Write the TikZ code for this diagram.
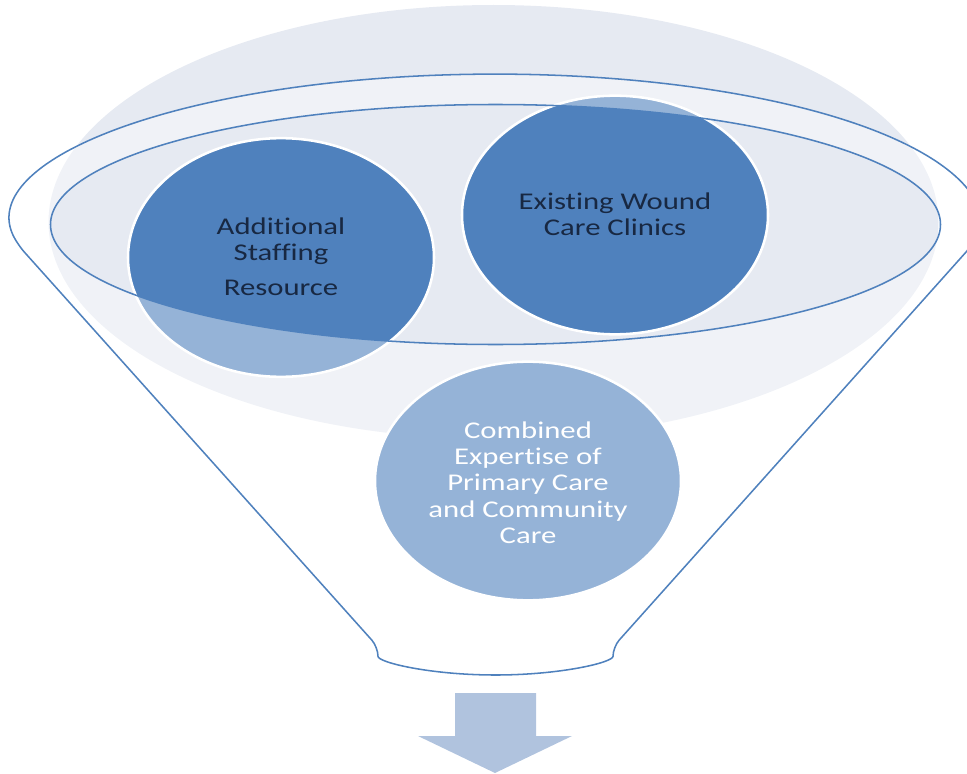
\documentclass[tikz,border=0pt]{standalone}
\usepackage{fontspec}
\setmainfont[Ligatures=NoCommon]{Carlito}
\usetikzlibrary{shapes.geometric}

\definecolor{accent}{HTML}{4F81BD}
\definecolor{haze}{RGB}{230,234,242}
\definecolor{arrowfill}{RGB}{176,195,222}
\definecolor{inktext}{RGB}{24,40,66}

% stretched, centred multi-line label; #1 lowers the ink without changing the box
\newcommand{\bubbletext}[2]{\raisebox{#1}[\height][\depth]{\scalebox{1.28}[1]{\fontsize{18}{19.7}\selectfont\begin{tabular}{@{}c@{}}#2\end{tabular}}}}

\tikzset{
  bubble/.style={ellipse, fill=accent, draw=white, line width=1.9pt,
    minimum width=229.5pt, minimum height=179pt, inner sep=0pt},
  darklabel/.style={text=inktext},
  lightlabel/.style={text=white},
  rimline/.style={draw=accent, line width=1.15pt},
  veil/.style={fill=white, fill opacity=0.4, even odd rule},
}

\begin{document}
\begin{tikzpicture}[x=0.75pt, y=-0.75pt]
\useasboundingbox (0,0) rectangle (967,774);

% soft backdrop behind the funnel mouth
\fill[haze] (493.5,222) ellipse [x radius=445, y radius=217];

% the three inputs
\node[bubble, darklabel] (staff) at (281,257.5)
  {\bubbletext{-1.5pt}{Additional\\Staffing\\[6.5pt]Resource}};
\node[bubble, darklabel] (clinics) at (615,215)
  {\bubbletext{-1.5pt}{Existing Wound\\Care Clinics}};
\node[bubble, lightlabel] (expert) at (528,481)
  {\bubbletext{-3.5pt}{Combined\\Expertise of\\Primary Care\\and Community\\Care}};

% translucent funnel body with the open mouth left clear
\fill[veil]
  [rounded corners=7pt] (18,245) arc[start angle=171.1, end angle=368.9, x radius=483, y radius=148]
  -- (613,647) arc[start angle=0, end angle=180, x radius=117.5, y radius=28] -- cycle
  [sharp corners] (495.5,224.5) ellipse [x radius=445, y radius=120];

% funnel outline and mouth rim
\draw[rimline, rounded corners=7pt] (18,245)
  arc[start angle=171.1, end angle=368.9, x radius=483, y radius=148]
  -- (613,647) arc[start angle=0, end angle=180, x radius=117.5, y radius=28] -- cycle;
\draw[rimline] (495.5,224.5) ellipse [x radius=445, y radius=120];

% outlet arrow
\fill[arrowfill] (455,693) -- (536,693) -- (536,736) -- (572,736)
  -- (495,773) -- (418,736) -- (455,736) -- cycle;
\end{tikzpicture}
\end{document}
